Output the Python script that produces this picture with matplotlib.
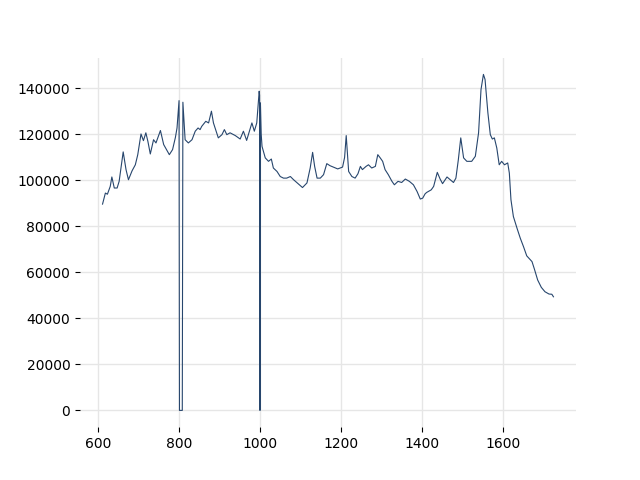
import numpy as np
import matplotlib
matplotlib.use('Agg')
import matplotlib.pyplot as plt

# spectrum (wavenumber, intensity)
wavenumber = [611, 618, 623, 630, 634, 640, 647, 652, 662, 669, 675, 684, 692, 698,
              706, 712, 718, 723, 729, 737, 743, 754, 762, 776, 784, 791, 795, 800,
              801, 808, 809.5, 815, 823, 832, 840, 847, 852, 856, 866, 873, 880, 885,
              897, 906, 912, 918, 926, 939, 951, 959, 967, 980, 986, 992, 998, 999,
              1000, 1001, 1003, 1005, 1013, 1021, 1028, 1033, 1042, 1050, 1058, 1066,
              1075, 1083, 1094, 1105, 1116, 1124, 1130, 1135, 1141, 1149, 1157, 1165,
              1173, 1181, 1192, 1204, 1209, 1213, 1219, 1227, 1235, 1242, 1248, 1253,
              1262, 1268, 1276, 1285, 1291, 1297, 1303, 1309, 1317, 1326, 1332, 1341,
              1350, 1359, 1369, 1379, 1388, 1396, 1402, 1408, 1412, 1423, 1429, 1438,
              1445, 1451, 1462, 1470, 1478, 1484, 1490, 1496, 1503, 1511, 1523, 1532,
              1540, 1546, 1552, 1556, 1563, 1569, 1574, 1579, 1585, 1591, 1597, 1604,
              1612, 1616, 1620, 1626, 1635, 1643, 1651, 1659, 1672, 1678, 1686, 1695,
              1704, 1714, 1721, 1725]
intensity = [89700, 94500, 94000, 97400, 101500, 96700, 96700, 99600, 112400, 104700,
             100300, 104200, 106800, 111200, 120200, 117300, 120700, 117000, 111500,
             117700, 116300, 121700, 115600, 111200, 113400, 118700, 122800, 134700,
             0, 0, 134000, 117700, 116300, 117700, 121400, 122800, 122100, 123500,
             125700, 125000, 130100, 125000, 118500, 119900, 122100, 119900, 120700,
             119500, 118000, 121400, 117400, 125000, 121400, 125000, 138800, 137000,
             0, 133700, 120000, 114800, 109800, 108300, 109300, 105400, 103900, 101700,
             101000, 101000, 101700, 100300, 98600, 96900, 98900, 105400, 112200,
             106100, 101000, 101000, 102500, 107300, 106400, 105800, 105000, 105800,
             110000, 119500, 103900, 101700, 101000, 102900, 106100, 104700, 106100,
             106800, 105400, 106100, 111200, 109800, 108300, 104700, 102500, 99600,
             98100, 99600, 99100, 100600, 99600, 98100, 95200, 91900, 92300, 94200,
             94800, 95900, 97400, 103500, 100600, 98600, 101500, 100300, 99100,
             101000, 109000, 118500, 109800, 108300, 108300, 110500, 120700, 139500,
             146100, 143900, 129400, 119900, 118000, 118500, 114100, 106800, 108300,
             106800, 107600, 103200, 91600, 84300, 79200, 74900, 71200, 67200, 64700,
             61400, 56700, 53500, 51600, 50600, 50500, 49400]

fig = plt.figure(figsize=(6.4, 4.8), dpi=100)
ax = fig.add_subplot(111)
ax.plot(wavenumber, intensity, color='#27466d', linewidth=0.8)
ax.grid(True, color='#e6e6e6', linewidth=1)
ax.set_axisbelow(True)
for s in ax.spines.values():
    s.set_visible(False)
plt.savefig('out.png')
